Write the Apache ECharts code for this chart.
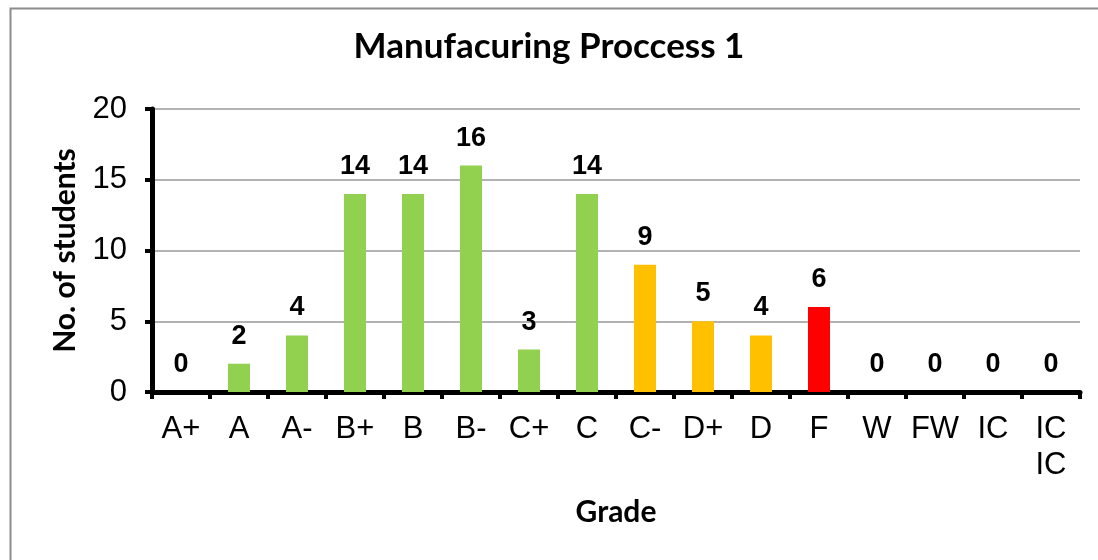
<!DOCTYPE html>
<html>
<head>
<meta charset="utf-8">
<script src="https://cdn.jsdelivr.net/npm/echarts@6/dist/echarts.min.js"></script>
<style>
html, body { margin: 0; padding: 0; background: #fff; }
#chart { width: 1098px; height: 560px; }
</style>
</head>
<body>
<div id="chart"></div>
<script>
// grades and number of students
var grades = ['A+', 'A', 'A-', 'B+', 'B', 'B-', 'C+', 'C', 'C-', 'D+', 'D', 'F', 'W', 'FW', 'IC', 'IC\nIC'];
var students = [0, 2, 4, 14, 14, 16, 3, 14, 9, 5, 4, 6, 0, 0, 0, 0];

// colour per grade band
var green = '#92D050', orange = '#FFC000', red = '#FF0000';
var barColors = [green, green, green, green, green, green, green, green,
                 orange, orange, orange, red, red, red, red, red];

var myChart = echarts.init(document.getElementById('chart'));

var option = {
    animation: false,
    backgroundColor: '#fff',
    graphic: [{
        type: 'rect',
        left: 8, top: 6,
        shape: { width: 1200, height: 700 },
        style: { fill: 'none', stroke: '#8c8c8c', lineWidth: 2 },
        z: -1
    }],
    title: {
        text: 'Manufacuring Proccess 1',
        left: 'center',
        top: 24,
        textStyle: {
            fontFamily: 'Lato',
            fontWeight: 'bold',
            fontSize: 35,
            color: '#000'
        }
    },
    grid: {
        left: 152,
        right: 18,
        top: 109,
        bottom: 168
    },
    xAxis: {
        type: 'category',
        data: grades,
        name: 'Grade',
        nameLocation: 'middle',
        nameGap: 105,
        nameTextStyle: {
            fontFamily: 'Lato',
            fontWeight: 'bold',
            fontSize: 30,
            color: '#000'
        },
        axisLine: { lineStyle: { color: '#000', width: 5 } },
        axisTick: { show: true, length: 7, lineStyle: { color: '#000', width: 4 } },
        axisLabel: {
            interval: 0,
            margin: 19,
            fontFamily: 'Liberation Sans',
            fontSize: 31,
            lineHeight: 36,
            color: '#000'
        }
    },
    yAxis: {
        type: 'value',
        min: 0,
        max: 20,
        interval: 5,
        name: 'No. of students',
        nameLocation: 'middle',
        nameGap: 72,
        nameTextStyle: {
            fontFamily: 'Lato',
            fontWeight: 'bold',
            fontSize: 30,
            color: '#000'
        },
        axisLine: { show: true, lineStyle: { color: '#000', width: 5 } },
        axisTick: { show: true, length: 7, lineStyle: { color: '#000', width: 4 } },
        axisLabel: {
            margin: 25,
            fontFamily: 'Liberation Sans',
            fontSize: 31,
            color: '#000'
        },
        splitLine: { lineStyle: { color: '#999', width: 1.5 } }
    },
    series: [{
        type: 'bar',
        data: students,
        barWidth: 22,
        itemStyle: {
            color: function (p) { return barColors[p.dataIndex]; }
        },
        label: {
            show: true,
            position: 'top',
            distance: 14,
            fontFamily: 'Liberation Sans',
            fontWeight: 'bold',
            fontSize: 27,
            color: '#000'
        }
    }]
};

myChart.setOption(option);
</script>
</body>
</html>
